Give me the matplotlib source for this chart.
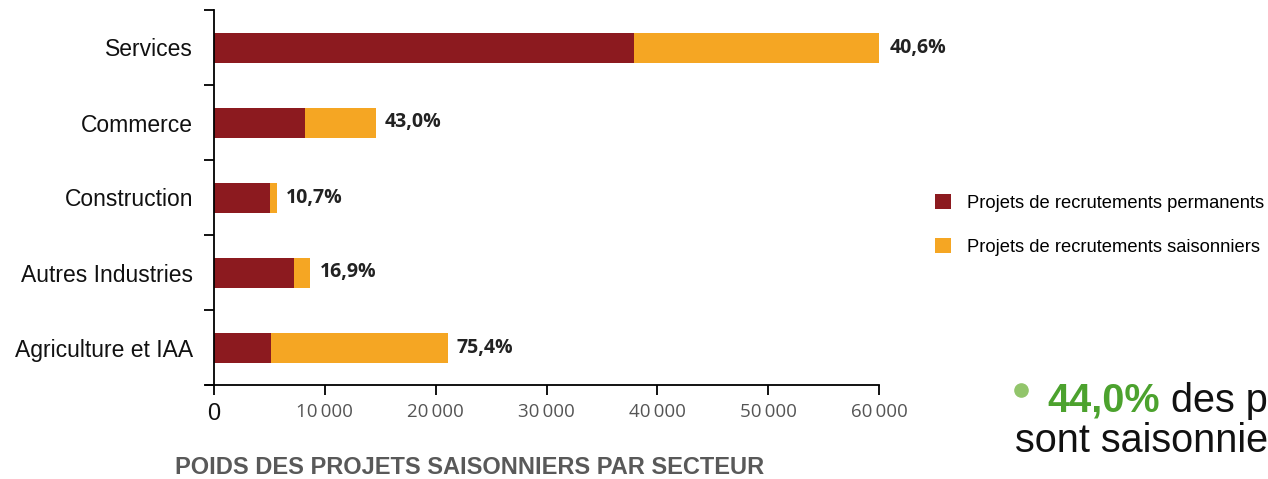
import matplotlib.pyplot as plt
from matplotlib.lines import Line2D
from matplotlib.text import Annotation

# data
secteurs = ['Services', 'Commerce', 'Construction', 'Autres Industries', 'Agriculture et IAA']
permanents = [37900, 8200, 5050, 7200, 5150]
saisonniers = [22200, 6400, 650, 1500, 15950]
part_saison = ['40,6%', '43,0%', '10,7%', '16,9%', '75,4%']
xticks = [0, 10000, 20000, 30000, 40000, 50000, 60000]
xticklabels = ['0', '10\u2009000', '20\u2009000', '30\u2009000', '40\u2009000', '50\u2009000', '60\u2009000']

c_perm = '#8C1A1F'
c_sais = '#F5A623'

fig = plt.figure(figsize=(12.68, 4.79), dpi=100)
ax = fig.add_axes([214/1268, 1-385/479, 665/1268, 375/479])

y = list(range(len(secteurs)))
ax.barh(y, permanents, height=0.4, color=c_perm, label='Projets de recrutements permanents')
ax.barh(y, saisonniers, left=permanents, height=0.4, color=c_sais,
        label='Projets de recrutements saisonniers')

for i in y:
    tot = permanents[i] + saisonniers[i]
    ax.annotate(part_saison[i], xy=(tot, i), xytext=(6.5, 0), textcoords='offset points',
                va='center', ha='left', fontsize=14, fontweight='bold',
                family='Open Sans', color='#222222', annotation_clip=False)

ax.set_xlim(0, 60000)
ax.set_ylim(4.5, -0.5)

# y ticks sit between categories, labels in the middle
ax.set_yticks([k - 0.5 for k in range(len(secteurs) + 1)])
ax.set_yticklabels([])
ax.set_yticks(y, minor=True)
ax.set_yticklabels(secteurs, minor=True, fontsize=16.5, family='Liberation Sans', color='#111111')
ax.tick_params(axis='y', which='major', direction='out', length=7, width=1.3)
ax.tick_params(axis='y', which='minor', length=0, pad=15)

ax.set_xticks(xticks)
ax.set_xticklabels(xticklabels)
ax.tick_params(axis='x', direction='out', length=7, width=1.3, pad=6)
for lab in ax.get_xticklabels():
    lab.set_family('Open Sans')
    lab.set_fontsize(13.5)
    lab.set_color('#555555')
z = ax.get_xticklabels()[0]
z.set_family('Liberation Sans')
z.set_fontsize(17)
z.set_color('#111111')

for s in ['top', 'right']:
    ax.spines[s].set_visible(False)
for s in ['left', 'bottom']:
    ax.spines[s].set_linewidth(1.3)
ax.spines['bottom'].set_bounds(-700, 60000)

fig.legend(loc='upper left', bbox_to_anchor=(935/1268, 1-194/479), frameon=False,
           prop={'family': 'Liberation Sans', 'size': 13.2},
           handlelength=0.85, handleheight=0.85, handletextpad=0.9,
           labelspacing=1.45, borderpad=0, borderaxespad=0)

fig.text(470/1268, 1-468/479, 'POIDS DES PROJETS SAISONNIERS PAR SECTEUR', ha='center', va='center',
         fontsize=17, fontweight='bold', family='Liberation Sans', color='#595959')

# highlighted statement at the bottom right, cut by the figure edge
fig.add_artist(Line2D([1021/1268], [1-390/479], marker='o', markersize=9.5, color='#92C56B',
                      transform=fig.transFigure))
t1 = fig.text(1047/1268, 1-412/479, '44,0%', fontsize=28.5, fontweight='bold',
              family='Liberation Sans', color='#4CA22E', va='baseline')
fig.add_artist(Annotation(' des projets', xy=(1, 0), xycoords=t1, va='bottom', fontsize=28.5,
                          family='Liberation Sans', color='#111111'))
fig.text(1015/1268, 1-452/479, 'sont saisonniers', fontsize=28.5, family='Liberation Sans',
         color='#111111', va='baseline')

fig.savefig('out.png', dpi=100)
